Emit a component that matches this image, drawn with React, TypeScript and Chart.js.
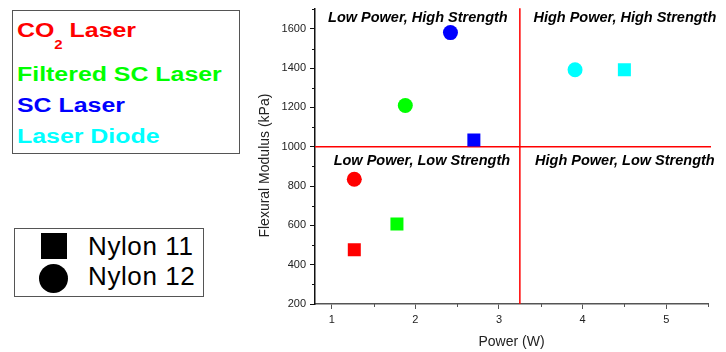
import React, { useEffect, useRef } from 'react';
import { Chart, registerables } from 'chart.js';

Chart.register(...registerables);

// ---- data ----
const laserNames = ['CO2 Laser', 'Filtered SC Laser', 'SC Laser', 'Laser Diode'];
const laserColors = ['#ff0000', '#00ff00', '#0000ff', '#00ffff'];
const nylonNames = ['Nylon 11', 'Nylon 12'];
const nylon11Power = [1.27, 1.78, 2.7, 4.5];
const nylon11Modulus = [476, 607, 1035, 1392];
const nylon12Power = [1.27, 1.88, 2.42, 3.91];
const nylon12Modulus = [835, 1210, 1581, 1392];
const xMinorTicks = [1.5, 2.5, 3.5, 4.5, 5.5];
const yMinorTicks = [300, 500, 700, 900, 1100, 1300, 1500, 1700];
const powerThreshold = 3.25;
const modulusThreshold = 1000;
const quadrantLabels = [
  'Low Power, High Strength',
  'High Power, High Strength',
  'Low Power, Low Strength',
  'High Power, Low Strength',
];
const xTitle = 'Power (W)';
const yTitle = 'Flexural Modulus (kPa)';

const FONT = 'Arial, "Liberation Sans", sans-serif';

const overlayPlugin = {
  id: 'overlay',
  beforeDatasetsDraw(chart: any) {
    const { ctx, chartArea } = chart;
    const xs = chart.scales.x;
    const ys = chart.scales.y;
    const px = xs.getPixelForValue(powerThreshold);
    const py = ys.getPixelForValue(modulusThreshold);
    ctx.save();
    // minor ticks
    ctx.lineWidth = 1;
    ctx.strokeStyle = '#555';
    ctx.beginPath();
    for (const v of xMinorTicks) {
      const p = Math.round(xs.getPixelForValue(v)) + 0.5;
      ctx.moveTo(p, chartArea.bottom);
      ctx.lineTo(p, chartArea.bottom + 3);
    }
    ctx.stroke();
    ctx.strokeStyle = '#111';
    ctx.beginPath();
    for (const v of yMinorTicks) {
      const p = Math.round(ys.getPixelForValue(v)) + 0.5;
      ctx.moveTo(chartArea.left, p);
      ctx.lineTo(chartArea.left - 3, p);
    }
    ctx.stroke();
    // threshold lines
    ctx.strokeStyle = '#ff0000';
    ctx.lineWidth = 1.5;
    ctx.beginPath();
    ctx.moveTo(px, chartArea.top - 1);
    ctx.lineTo(px, chartArea.bottom);
    ctx.moveTo(chartArea.left, py);
    ctx.lineTo(chartArea.right + 3, py);
    ctx.stroke();
    // quadrant labels
    ctx.fillStyle = '#000';
    ctx.font = 'italic bold 14.5px ' + FONT;
    ctx.textAlign = 'center';
    ctx.textBaseline = 'alphabetic';
    ctx.fillText(quadrantLabels[0], px - 102, chartArea.top + 12.5);
    ctx.fillText(quadrantLabels[1], px + 105, chartArea.top + 12.5);
    ctx.fillText(quadrantLabels[2], px - 98, py + 18);
    ctx.fillText(quadrantLabels[3], px + 105, py + 18);
    // axis titles
    ctx.fillStyle = '#222';
    ctx.font = '14px ' + FONT;
    ctx.fillText(xTitle, (chartArea.left + chartArea.right) / 2, chartArea.bottom + 42);
    ctx.translate(chartArea.left - 46, (chartArea.top + chartArea.bottom) / 2 + 9);
    ctx.rotate(-Math.PI / 2);
    ctx.fillText(yTitle, 0, 0);
    ctx.restore();
  },
};

export default function App() {
  const ref = useRef<HTMLCanvasElement | null>(null);

  useEffect(() => {
    if (!ref.current) return;
    const chart = new Chart(ref.current, {
      type: 'scatter',
      data: {
        datasets: [
          {
            label: nylonNames[0],
            data: nylon11Power.map((p, i) => ({ x: p, y: nylon11Modulus[i] })),
            pointStyle: 'rect',
            pointRadius: 9.2,
            backgroundColor: laserColors,
            borderWidth: 0,
          },
          {
            label: nylonNames[1],
            data: nylon12Power.map((p, i) => ({ x: p, y: nylon12Modulus[i] })),
            pointStyle: 'circle',
            pointRadius: 7.5,
            backgroundColor: laserColors,
            borderWidth: 0,
          },
        ],
      },
      options: {
        animation: false,
        responsive: false,
        devicePixelRatio: 1,
        layout: { padding: { left: 250, right: 18, top: 5, bottom: 0 } },
        plugins: { legend: { display: false }, tooltip: { enabled: false } },
        scales: {
          x: {
            type: 'linear',
            min: 0.8,
            max: 5.5,
            ticks: {
              stepSize: 1,
              includeBounds: false,
              font: { size: 11, family: FONT },
              color: '#222',
              padding: 4,
              callback: (v: any) => String(v),
            },
            grid: { drawOnChartArea: false, drawTicks: true, tickLength: 5, color: '#555', lineWidth: 1 },
            border: { display: true, color: '#555', width: 1.5 },
            afterFit: (s: any) => {
              s.height = 48;
              s.paddingLeft = 0;
              s.paddingRight = 0;
            },
          },
          y: {
            type: 'linear',
            min: 200,
            max: 1700,
            ticks: {
              stepSize: 200,
              includeBounds: false,
              font: { size: 11, family: FONT },
              color: '#222',
              padding: 4,
              callback: (v: any) => String(v),
            },
            grid: { drawOnChartArea: false, drawTicks: true, tickLength: 5, color: '#111', lineWidth: 1 },
            border: { display: true, color: '#111', width: 1.5 },
            afterFit: (s: any) => {
              s.width = 65;
              s.paddingTop = 0;
              s.paddingBottom = 0;
            },
          },
        },
      },
      plugins: [overlayPlugin],
    } as any);
    return () => chart.destroy();
  }, []);

  const legendTops = [19.8, 63.8, 94.8, 125.8];

  return (
    <div style={{ position: 'absolute', left: 0, top: 0, width: 726, height: 352, background: '#fff', fontFamily: FONT }}>
      <canvas ref={ref} width={726} height={352} style={{ position: 'absolute', left: 0, top: 0, width: 726, height: 352 }} />
      {/* laser legend */}
      <div
        style={{
          position: 'absolute',
          left: 12,
          top: 9.5,
          width: 226,
          height: 142,
          border: '1.5px solid #555',
          background: '#fff',
        }}
      />
      {laserNames.map((name, i) => (
        <div
          key={name}
          style={{
            position: 'absolute',
            left: 16.5,
            top: legendTops[i],
            fontSize: 20,
            lineHeight: '20px',
            fontWeight: 'bold',
            color: laserColors[i],
            whiteSpace: 'nowrap',
            transform: 'scaleX(1.245)',
            transformOrigin: 'left top',
          }}
        >
          {i === 0 ? (
            <>
              CO
              <span style={{ fontSize: 12, position: 'relative', top: 12 }}>2</span>
              {' Laser'}
            </>
          ) : (
            name
          )}
        </div>
      ))}
      {/* nylon legend */}
      <div
        style={{
          position: 'absolute',
          left: 14,
          top: 227.5,
          width: 188,
          height: 67,
          border: '1.5px solid #555',
          background: '#fff',
        }}
      />
      <div style={{ position: 'absolute', left: 40.7, top: 233.3, width: 26, height: 26, background: '#000' }} />
      <div style={{ position: 'absolute', left: 39, top: 264, width: 29, height: 29, borderRadius: '50%', background: '#000' }} />
      {nylonNames.map((name, i) => (
        <div
          key={name}
          style={{
            position: 'absolute',
            left: 88,
            top: 233 + i * 30,
            fontSize: 26,
            lineHeight: '26px',
            letterSpacing: 0.6,
            color: '#000',
            whiteSpace: 'nowrap',
          }}
        >
          {name}
        </div>
      ))}
    </div>
  );
}
